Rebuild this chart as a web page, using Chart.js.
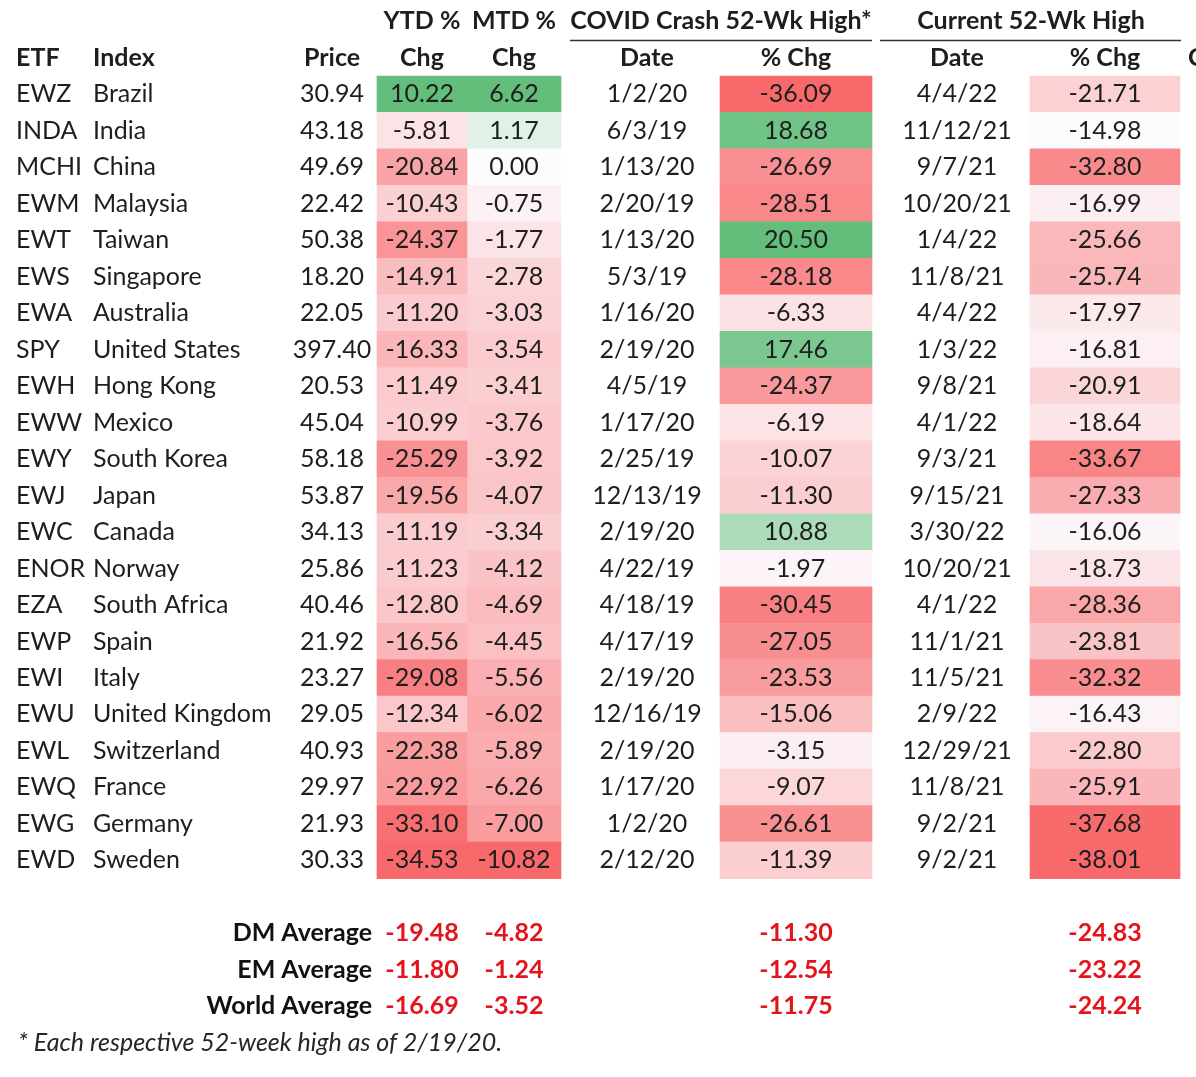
<!DOCTYPE html>
<html>
<head>
<meta charset="utf-8">
<script src="https://cdn.jsdelivr.net/npm/chart.js@4.4.1/dist/chart.umd.min.js"></script>
<style>
  html, body { margin: 0; padding: 0; background: #fff; }
  #wrap { width: 1196px; height: 1077px; position: relative; }
</style>
</head>
<body>
<div id="wrap"><canvas id="table"></canvas></div>
<script>
const tickers = ['EWZ','INDA','MCHI','EWM','EWT','EWS','EWA','SPY','EWH','EWW','EWY','EWJ','EWC','ENOR','EZA','EWP','EWI','EWU','EWL','EWQ','EWG','EWD'];
const indexNames = ['Brazil','India','China','Malaysia','Taiwan','Singapore','Australia','United States','Hong Kong','Mexico','South Korea','Japan','Canada','Norway','South Africa','Spain','Italy','United Kingdom','Switzerland','France','Germany','Sweden'];
const prices = [30.94,43.18,49.69,22.42,50.38,18.20,22.05,397.40,20.53,45.04,58.18,53.87,34.13,25.86,40.46,21.92,23.27,29.05,40.93,29.97,21.93,30.33];
const ytdChg = [10.22,-5.81,-20.84,-10.43,-24.37,-14.91,-11.20,-16.33,-11.49,-10.99,-25.29,-19.56,-11.19,-11.23,-12.80,-16.56,-29.08,-12.34,-22.38,-22.92,-33.10,-34.53];
const mtdChg = [6.62,1.17,0.00,-0.75,-1.77,-2.78,-3.03,-3.54,-3.41,-3.76,-3.92,-4.07,-3.34,-4.12,-4.69,-4.45,-5.56,-6.02,-5.89,-6.26,-7.00,-10.82];
const covidDates = ['1/2/20','6/3/19','1/13/20','2/20/19','1/13/20','5/3/19','1/16/20','2/19/20','4/5/19','1/17/20','2/25/19','12/13/19','2/19/20','4/22/19','4/18/19','4/17/19','2/19/20','12/16/19','2/19/20','1/17/20','1/2/20','2/12/20'];
const covidChg = [-36.09,18.68,-26.69,-28.51,20.50,-28.18,-6.33,17.46,-24.37,-6.19,-10.07,-11.30,10.88,-1.97,-30.45,-27.05,-23.53,-15.06,-3.15,-9.07,-26.61,-11.39];
const currentDates = ['4/4/22','11/12/21','9/7/21','10/20/21','1/4/22','11/8/21','4/4/22','1/3/22','9/8/21','4/1/22','9/3/21','9/15/21','3/30/22','10/20/21','4/1/22','11/1/21','11/5/21','2/9/22','12/29/21','11/8/21','9/2/21','9/2/21'];
const currentChg = [-21.71,-14.98,-32.80,-16.99,-25.66,-25.74,-17.97,-16.81,-20.91,-18.64,-33.67,-27.33,-16.06,-18.73,-28.36,-23.81,-32.32,-16.43,-22.80,-25.91,-37.68,-38.01];
const avgLabels = ['DM Average','EM Average','World Average'];
const avgYtd = [-19.48,-11.80,-16.69];
const avgMtd = [-4.82,-1.24,-3.52];
const avgCovid = [-11.30,-12.54,-11.75];
const avgCurrent = [-24.83,-23.22,-24.24];
const footnote = '* Each respective 52-week high as of 2/19/20.';

// row layout: 2 header rows, data rows, a gap, 3 average rows, footnote
const HEAD = 2;
const rowKeys = ['h1', 'h2'].concat(tickers, ['gap'], avgLabels, ['note']);
const avgStart = HEAD + tickers.length + 1;

// column layout in canvas units (x scale is 0..1196)
const col = {
  etf: 16, index: 93, price: 332,
  ytd: [377, 467], mtd: [467, 561],
  covidDate: 647, covid: [720, 872],
  curDate: 957, cur: [1030, 1180]
};
const mid = c => (c[0] + c[1]) / 2;

// Excel style colour scale: red (min) -> white (mid) -> green (max)
const RED = [248, 105, 107], WHITE = [252, 252, 255], GREEN = [99, 190, 123];
function mix(a, b, t) {
  return 'rgb(' + a.map((v, i) => Math.round(v + (b[i] - v) * t)).join(',') + ')';
}
function scaleColors(vals) {
  const lo = Math.min(...vals), hi = Math.max(...vals);
  const m = Math.min(0, hi);
  return vals.map(v => v >= m
    ? mix(WHITE, GREEN, hi === m ? 0 : (v - m) / (hi - m))
    : mix(WHITE, RED, (m - v) / (m - lo)));
}

function cellSet(label, vals, span) {
  const colors = scaleColors(vals);
  return {
    label: label,
    data: rowKeys.map((k, i) => (i >= HEAD && i < HEAD + vals.length) ? span : null),
    backgroundColor: rowKeys.map((k, i) => (i >= HEAD && i < HEAD + vals.length) ? colors[i - HEAD] : 'transparent'),
    borderWidth: 0,
    grouped: false,
    barPercentage: 1,
    categoryPercentage: 1
  };
}

const FONT = 'Lato, "Open Sans", sans-serif';
const SIZE = 25;
const TEXT = '#1e1e1e';

const tableText = {
  id: 'tableText',
  afterDatasetsDraw(chart) {
    const c = chart.ctx, xs = chart.scales.x, ys = chart.scales.y;
    const X = v => xs.getPixelForValue(v);
    const Y = i => ys.getPixelForValue(i);
    function put(str, x, i, align, weight, color, style) {
      c.font = (style || 'normal') + ' ' + (weight || 'normal') + ' ' + SIZE + 'px ' + FONT;
      c.fillStyle = color || TEXT;
      c.textAlign = align;
      c.textBaseline = 'middle';
      c.fillText(str, X(x), Y(i));
    }
    c.save();
    // group headers
    put('YTD %', mid(col.ytd), 0, 'center', 'bold');
    put('MTD %', mid(col.mtd), 0, 'center', 'bold');
    put('COVID Crash 52-Wk High*', 721, 0, 'center', 'bold');
    put('Current 52-Wk High', 1031, 0, 'center', 'bold');
    c.strokeStyle = '#333';
    c.lineWidth = 1.5;
    const ly = (Y(0) + Y(1)) / 2 + 1;
    c.beginPath();
    c.moveTo(X(570), ly); c.lineTo(X(872), ly);
    c.moveTo(X(880), ly); c.lineTo(X(1181), ly);
    c.stroke();
    // column headers
    put('ETF', col.etf, 1, 'left', 'bold');
    put('Index', col.index, 1, 'left', 'bold');
    put('Price', col.price, 1, 'center', 'bold');
    put('Chg', mid(col.ytd), 1, 'center', 'bold');
    put('Chg', mid(col.mtd), 1, 'center', 'bold');
    put('Date', col.covidDate, 1, 'center', 'bold');
    put('% Chg', mid(col.covid), 1, 'center', 'bold');
    put('Date', col.curDate, 1, 'center', 'bold');
    put('% Chg', mid(col.cur), 1, 'center', 'bold');
    put('C', 1188, 1, 'left', 'bold');
    // body
    tickers.forEach((t, k) => {
      const i = HEAD + k;
      put(t, col.etf, i, 'left');
      put(indexNames[k], col.index, i, 'left');
      put(prices[k].toFixed(2), col.price, i, 'center');
      put(ytdChg[k].toFixed(2), mid(col.ytd), i, 'center');
      put(mtdChg[k].toFixed(2), mid(col.mtd), i, 'center');
      put(covidDates[k], col.covidDate, i, 'center');
      put(covidChg[k].toFixed(2), mid(col.covid), i, 'center');
      put(currentDates[k], col.curDate, i, 'center');
      put(currentChg[k].toFixed(2), mid(col.cur), i, 'center');
    });
    // averages
    const red = '#e3141b';
    avgLabels.forEach((lab, k) => {
      const i = avgStart + k;
      put(lab, 372, i, 'right', 'bold', '#111');
      put(avgYtd[k].toFixed(2), mid(col.ytd), i, 'center', 'bold', red);
      put(avgMtd[k].toFixed(2), mid(col.mtd), i, 'center', 'bold', red);
      put(avgCovid[k].toFixed(2), mid(col.covid), i, 'center', 'bold', red);
      put(avgCurrent[k].toFixed(2), mid(col.cur), i, 'center', 'bold', red);
    });
    put(footnote, 18, rowKeys.length - 1, 'left', 'normal', '#262626', 'italic');
    c.restore();
  }
};

new Chart(document.getElementById('table'), {
  type: 'bar',
  data: {
    labels: rowKeys,
    datasets: [
      cellSet('YTD % Chg', ytdChg, col.ytd),
      cellSet('MTD % Chg', mtdChg, col.mtd),
      cellSet('COVID % Chg', covidChg, col.covid),
      cellSet('Current % Chg', currentChg, col.cur)
    ]
  },
  options: {
    indexAxis: 'y',
    responsive: true,
    maintainAspectRatio: false,
    animation: false,
    layout: { padding: { top: 3, bottom: 16, left: 0, right: 0 } },
    scales: {
      x: { type: 'linear', min: 0, max: 1196, display: false },
      y: { display: false }
    },
    plugins: { legend: { display: false }, tooltip: { enabled: false } }
  },
  plugins: [tableText]
});
</script>
</body>
</html>
